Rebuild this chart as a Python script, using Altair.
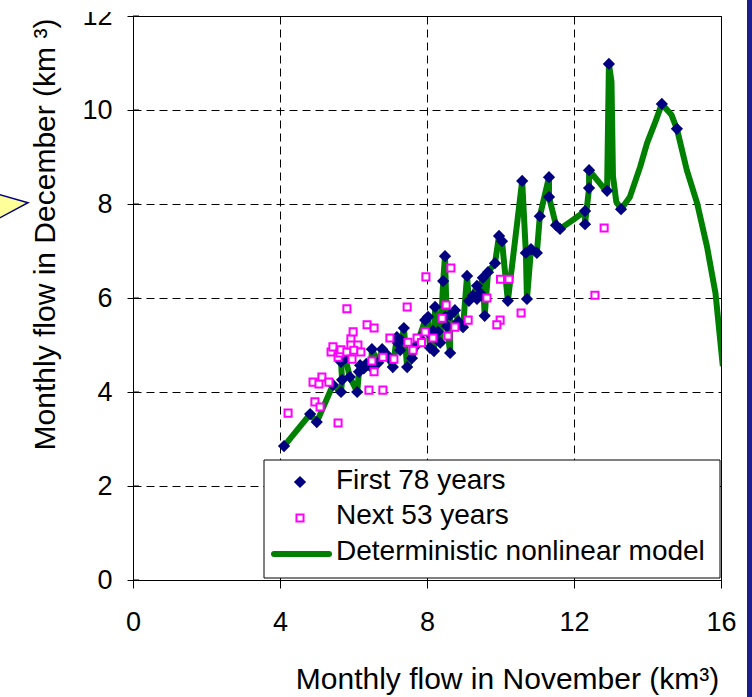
import altair as alt
import pandas as pd

# November flow (km^3) vs December flow (km^3)
first_x = [4.11, 4.82, 5.00, 5.44, 5.66, 5.69, 5.66, 5.78, 5.90, 6.10,
           6.15, 6.18, 6.28, 6.35, 6.48, 6.50, 6.67, 6.78, 6.90, 7.00,
           7.07, 7.18, 7.21, 7.27, 7.30, 7.37, 7.46, 7.59, 7.72, 7.80,
           7.95, 8.03, 8.08, 8.12, 8.16, 8.19, 8.22, 8.30, 8.36, 8.44,
           8.49, 8.50, 8.54, 8.63, 8.63, 8.76, 8.85, 8.98, 9.09, 9.14,
           9.25, 9.36, 9.36, 9.45, 9.52, 9.57, 9.66, 9.85, 9.96, 10.04,
           10.20, 10.59, 10.69, 10.72, 10.83, 10.99, 11.07, 11.32, 11.32, 11.51,
           11.62, 12.30, 12.30, 12.41, 12.41, 12.90, 12.95, 13.28, 14.39, 14.80]
first_y = [2.85, 3.53, 3.36, 4.15, 4.00, 4.26, 4.64, 4.72, 4.32, 4.00,
           4.43, 4.57, 4.50, 4.60, 4.53, 4.91, 4.62, 4.91, 4.80, 4.70,
           4.53, 5.17, 5.04, 4.89, 5.10, 5.36, 4.53, 4.72, 5.00, 5.15,
           5.53, 5.60, 4.94, 5.20, 5.30, 4.87, 5.81, 5.28, 5.05, 6.36,
           6.89, 5.60, 5.40, 4.83, 5.64, 5.74, 5.50, 5.38, 6.47, 5.94,
           6.05, 6.26, 5.98, 6.10, 6.43, 5.62, 6.55, 6.74, 7.32, 7.21,
           5.94, 8.49, 6.96, 5.98, 7.04, 6.96, 7.74, 8.57, 8.15, 7.55,
           7.47, 7.85, 7.57, 8.72, 8.34, 8.28, 10.98, 7.89, 10.13, 9.60]

next_x = [4.22, 4.95, 5.09, 5.58, 4.90, 5.06, 5.14, 5.33, 5.39, 5.44,
          5.58, 5.63, 5.66, 5.82, 5.82, 5.93, 5.99, 5.93, 6.12, 6.01,
          5.96, 6.20, 6.37, 6.56, 6.42, 6.80, 6.50, 6.56, 6.80, 7.10,
          6.99, 7.46, 7.48, 7.62, 7.73, 7.85, 7.95, 7.97, 8.65, 8.52,
          8.41, 8.16, 8.57, 8.76, 9.12, 9.63, 10.00, 10.23, 10.56, 9.99,
          9.90, 12.82, 12.57]
next_y = [3.55, 3.79, 3.68, 3.34, 4.21, 4.17, 4.32, 4.21, 4.85, 4.96,
          4.74, 4.83, 4.90, 5.77, 4.85, 5.13, 5.28, 5.00, 5.00, 4.89,
          4.70, 4.85, 5.43, 5.36, 4.04, 4.04, 4.66, 4.43, 4.74, 4.70,
          5.15, 5.81, 5.06, 4.89, 5.15, 5.05, 5.28, 6.45, 6.64, 5.85,
          5.57, 5.15, 5.19, 5.38, 5.53, 6.00, 6.40, 6.40, 5.68, 5.53,
          5.43, 7.49, 6.06]

# Deterministic nonlinear model, in path order
model_x = [4.11, 4.82, 5.00, 5.44, 5.66, 5.69, 5.66, 5.78, 5.90, 6.10,
           6.15, 6.18, 6.28, 6.48, 6.50, 6.67, 6.78, 6.90, 7.07, 7.18,
           7.21, 7.27, 7.37, 7.46, 7.59, 7.72, 7.95, 8.03, 8.08, 8.12,
           8.16, 8.19, 8.22, 8.30, 8.36, 8.44, 8.49, 8.54, 8.63, 8.63,
           8.76, 8.85, 8.98, 9.09, 9.14, 9.25, 9.36, 9.36, 9.52, 9.57,
           9.66, 9.85, 9.96, 10.04, 10.20, 10.59, 10.69, 10.72, 10.83, 10.99,
           11.07, 11.32, 11.32, 11.51, 11.62, 11.97, 12.30, 12.30, 12.41, 12.41,
           12.85, 12.90, 12.95, 13.02, 13.06, 13.15, 13.28, 13.52, 13.80, 13.99,
           14.20, 14.39, 14.65, 14.80, 15.07, 15.35, 15.62, 15.85, 16.05]
model_y = [2.85, 3.53, 3.36, 4.15, 4.00, 4.26, 4.64, 4.72, 4.32, 4.00,
           4.43, 4.57, 4.50, 4.53, 4.91, 4.62, 4.91, 4.80, 4.53, 5.17,
           5.04, 4.89, 5.36, 4.53, 4.72, 5.00, 5.53, 5.60, 4.94, 5.20,
           5.30, 4.87, 5.81, 5.28, 5.05, 6.36, 6.89, 5.40, 4.83, 5.64,
           5.74, 5.50, 5.38, 6.47, 5.94, 6.05, 6.26, 5.98, 6.43, 5.62,
           6.55, 6.74, 7.32, 7.21, 5.94, 8.49, 6.96, 5.98, 7.04, 6.96,
           7.74, 8.57, 8.15, 7.55, 7.47, 7.66, 7.85, 7.57, 8.34, 8.72,
           8.30, 8.28, 10.98, 10.60, 8.60, 8.05, 7.89, 8.15, 8.79, 9.30,
           9.72, 10.13, 9.90, 9.60, 8.72, 8.02, 7.09, 6.10, 4.55]

x_ticks = [0, 4, 8, 12, 16]
y_ticks = [0, 2, 4, 6, 8, 10, 12]
legend_labels = ["First 78 years", "Next 53 years", "Deterministic nonlinear model"]

FONT = "Liberation Sans"
NAVY = "#000080"
MAGENTA = "#FF00FF"
GREEN = "#008000"

first = pd.DataFrame({"nov": first_x, "dec": first_y})
nxt = pd.DataFrame({"nov": next_x, "dec": next_y})
model = pd.DataFrame({"nov": model_x, "dec": model_y, "step": list(range(len(model_x)))})
ticks_df = pd.DataFrame({"dec": y_ticks})
one = pd.DataFrame({"k": [0]})

xs = alt.Scale(domain=[0, 16], nice=False, zero=False)
ys = alt.Scale(domain=[0, 12], nice=False, zero=False)

x_axis = alt.Axis(
    values=x_ticks, format="d", grid=True, gridColor="black", gridDash=[8, 5], gridWidth=1,
    domainColor="black", tickColor="black", tickSize=8, labelPadding=21,
    labelFont=FONT, labelFontSize=27, labelColor="black", labelFlush=False,
    title="Monthly flow in November (km³)", titleFont=FONT, titleFontSize=30,
    titleFontWeight="normal", titleColor="black",
    titleX=374, titleY=108, titleBaseline="alphabetic",
)
y_axis = alt.Axis(
    values=y_ticks, format="d", grid=True, gridColor="black", gridDash=[8, 5], gridWidth=1,
    domainColor="black", tickColor="black", tickSize=6, labelPadding=15,
    labelFont=FONT, labelFontSize=27, labelColor="black", labelFlush=False,
    title="Monthly flow in December (km ³)", titleFont=FONT, titleFontSize=30,
    titleFontWeight="normal", titleColor="black",
    titleX=-79, titleY=218, titleBaseline="alphabetic", titleAlign="center",
)

line = alt.Chart(model).mark_line(
    color=GREEN, strokeWidth=6, strokeJoin="round", clip=True
).encode(
    x=alt.X("nov:Q", scale=xs, axis=x_axis),
    y=alt.Y("dec:Q", scale=ys, axis=y_axis),
    order="step:Q",
)

diamonds = alt.Chart(first).mark_point(
    shape="diamond", filled=True, color=NAVY, size=150, opacity=1
).encode(x=alt.X("nov:Q", scale=xs), y=alt.Y("dec:Q", scale=ys))

squares = alt.Chart(nxt).mark_point(
    shape="square", filled=True, fill="white", stroke=MAGENTA, strokeWidth=2,
    size=50, opacity=1
).encode(x=alt.X("nov:Q", scale=xs), y=alt.Y("dec:Q", scale=ys))

# inner half of the crossing ticks on the vertical axis
inner_ticks = alt.Chart(ticks_df).mark_rule(color="black", strokeWidth=1).encode(
    y=alt.Y("dec:Q", scale=ys), x=alt.value(0), x2=alt.value(6)
)

# legend box
leg_box = alt.Chart(one).mark_rect(fill="white", stroke="black", strokeWidth=1).encode(
    x=alt.value(131), x2=alt.value(587), y=alt.value(444), y2=alt.value(562)
)
leg_diamond = alt.Chart(one).mark_point(
    shape="diamond", filled=True, color=NAVY, size=150, opacity=1
).encode(x=alt.value(167), y=alt.value(466))
leg_square = alt.Chart(one).mark_point(
    shape="square", filled=True, fill="white", stroke=MAGENTA, strokeWidth=2,
    size=50, opacity=1
).encode(x=alt.value(167), y=alt.value(502))
leg_line = alt.Chart(one).mark_rule(color=GREEN, strokeWidth=6, strokeCap="round").encode(
    x=alt.value(141), x2=alt.value(196), y=alt.value(538)
)
leg_texts = [
    alt.Chart(one).mark_text(
        text=lab, font=FONT, fontSize=28, align="left", baseline="alphabetic", color="black"
    ).encode(x=alt.value(203), y=alt.value(yy))
    for lab, yy in zip(legend_labels, [473, 508, 544])
]

# callout pointer at the left edge
callout = alt.Chart(one).mark_point(
    shape="M -1 -0.82 L 1 -0.25 L -1 0.82 Z", filled=True, fill="#FFFF99",
    stroke=NAVY, strokeWidth=1.5, size=3364, opacity=1
).encode(x=alt.value(-134), y=alt.value(194))

# white band along the top edge and the dark frame strip at the right edge
top_band = alt.Chart(one).mark_rect(color="white").encode(
    x=alt.value(-133), x2=alt.value(619), y=alt.value(-16), y2=alt.value(-4)
)
right_bar = alt.Chart(one).mark_rect(color="#1c1c8c").encode(
    x=alt.value(614), x2=alt.value(619), y=alt.value(-16), y2=alt.value(681)
)

chart = alt.layer(
    line, diamonds, squares, inner_ticks, leg_box, leg_diamond, leg_square, leg_line,
    *leg_texts, callout, top_band, right_bar
).properties(
    width=588, height=564,
    autosize=alt.AutoSizeParams(type="none"),
    padding={"left": 133, "top": 16, "right": 31, "bottom": 117},
    background="white",
).configure_view(
    stroke="black", strokeWidth=1
)

chart.save("out.html", embed_options={"renderer": "svg", "actions": False})
